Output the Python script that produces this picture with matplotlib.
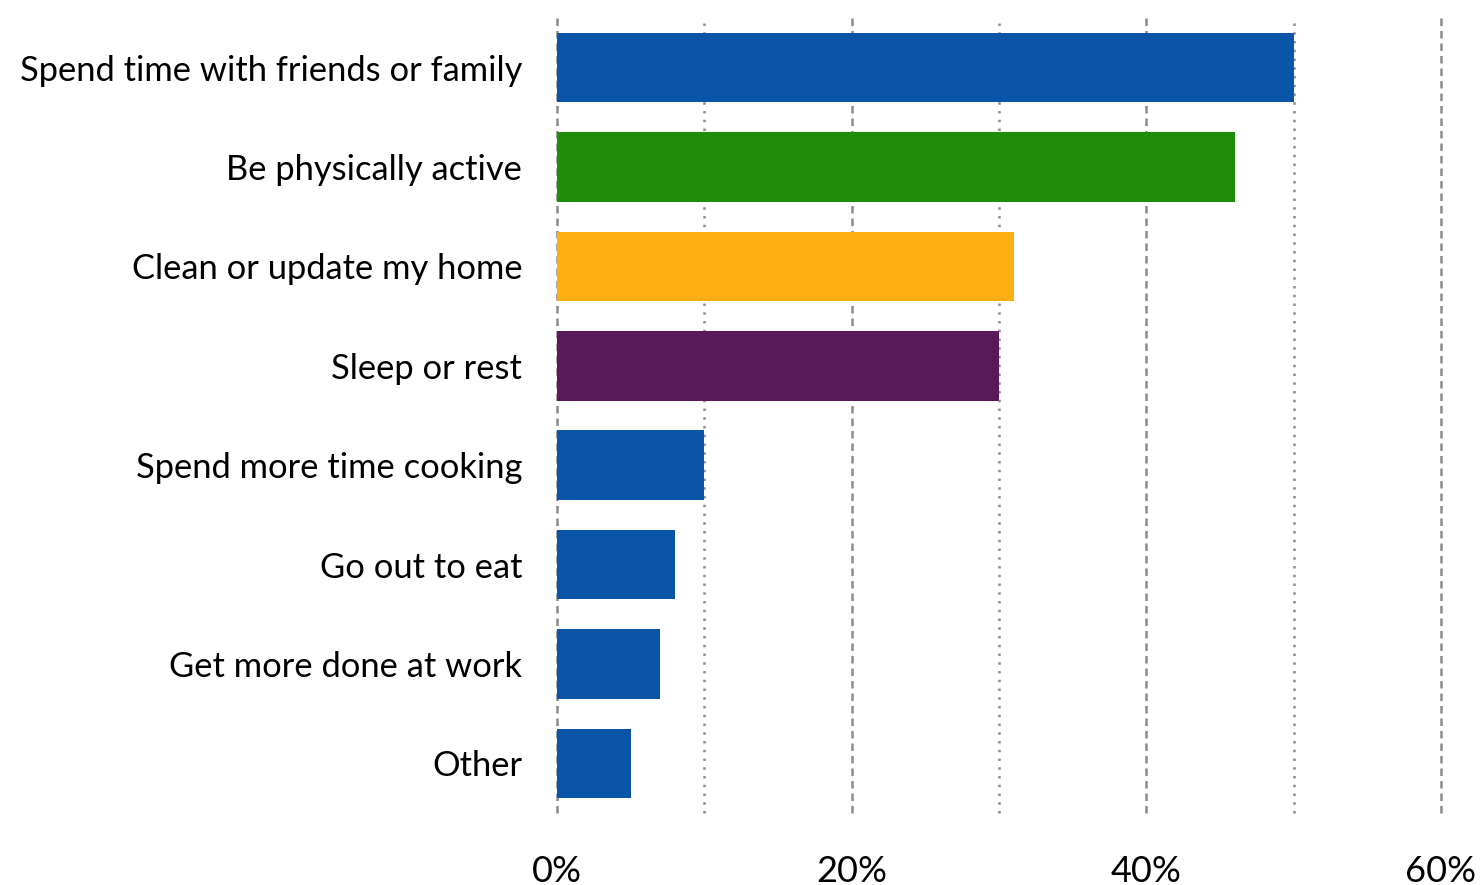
import matplotlib
matplotlib.use('Agg')
import matplotlib.pyplot as plt
from matplotlib.ticker import MultipleLocator, FuncFormatter

plt.rcParams['font.family'] = ['Lato', 'DejaVu Sans']

# 活动类别及占比（%）
categories = [
    'Spend time with friends or family',
    'Be physically active',
    'Clean or update my home',
    'Sleep or rest',
    'Spend more time cooking',
    'Go out to eat',
    'Get more done at work',
    'Other',
]
values = [50, 46, 31, 30, 10, 8, 7, 5]
bar_colors = ['#0a55a8', '#1f8c0a', '#fdae13', '#5a1a5a',
              '#0a55a8', '#0a55a8', '#0a55a8', '#0a55a8']

fig = plt.figure(figsize=(14.82, 8.85), dpi=100)
ax = fig.add_axes([557 / 1482, 1 - 813 / 885, 884 / 1482, 795 / 885])

y = list(range(len(categories)))
ax.barh(y, values, height=0.7, color=bar_colors, zorder=3)

ax.set_xlim(0, 60)
ax.set_ylim(len(categories) - 0.5, -0.5)
ax.set_yticks(y)
ax.set_yticklabels(categories, fontsize=24.8)

ax.xaxis.set_major_locator(MultipleLocator(20))
ax.xaxis.set_minor_locator(MultipleLocator(10))
ax.xaxis.set_major_formatter(FuncFormatter(lambda v, p: f'{v:.0f}%'))
ax.tick_params(axis='x', which='major', labelsize=26, pad=30, length=0)
ax.tick_params(axis='x', which='minor', length=0)
ax.tick_params(axis='y', length=0, pad=25)

# 主网格虚线，次网格点线
ax.grid(axis='x', which='major', color='#8c8c8c', linestyle=(0, (3, 2)), linewidth=1.8, zorder=1)
ax.grid(axis='x', which='minor', color='#8c8c8c', linestyle=(0, (1, 2.5)), linewidth=1.8, zorder=1)

# 边缘网格线不裁剪
for tick in ax.xaxis.get_major_ticks() + ax.xaxis.get_minor_ticks():
    tick.gridline.set_clip_on(False)

for s in ax.spines.values():
    s.set_visible(False)

fig.savefig('out.png', dpi=100)
